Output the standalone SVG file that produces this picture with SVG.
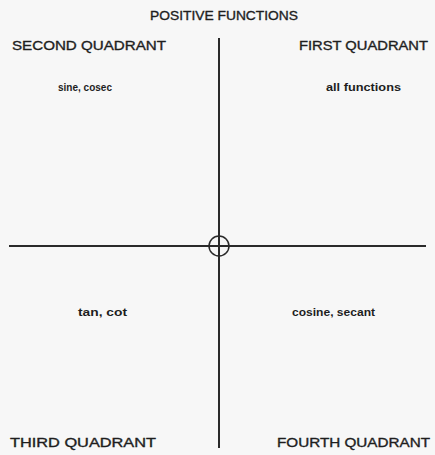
<svg xmlns="http://www.w3.org/2000/svg" width="435" height="455" viewBox="0 0 435 455">
<style>
.t{font-family:"Liberation Sans",Arial,sans-serif;fill:#1e1e1e;}
.h{font-size:13px;stroke:#1e1e1e;stroke-width:0.35px;}
.s{font-size:10.5px;font-weight:bold;}
.ax{stroke:#2a2a2a;fill:none;}
</style>
<rect width="435" height="455" fill="#f7f7f7"/>
<g id="connectors">
<line class="ax" x1="219" y1="38" x2="219" y2="448" stroke-width="2"/>
<line class="ax" x1="9" y1="246" x2="426" y2="246" stroke-width="2"/>
<circle class="ax" cx="219" cy="246" r="10" stroke-width="1.5"/>
</g>
<g id="title"><text class="t h" x="224" y="20" text-anchor="middle" textLength="148" lengthAdjust="spacingAndGlyphs">POSITIVE FUNCTIONS</text></g>
<g id="q2"><text class="t h" x="12" y="50" textLength="154" lengthAdjust="spacingAndGlyphs">SECOND QUADRANT</text>
<text class="t s" x="58" y="91" textLength="54" lengthAdjust="spacingAndGlyphs">sine, cosec</text></g>
<g id="q1"><text class="t h" x="299" y="50" textLength="129" lengthAdjust="spacingAndGlyphs">FIRST QUADRANT</text>
<text class="t s" x="326" y="91" textLength="75" lengthAdjust="spacingAndGlyphs">all functions</text></g>
<g id="q3"><text class="t h" x="10" y="447" textLength="146" lengthAdjust="spacingAndGlyphs">THIRD QUADRANT</text>
<text class="t s" x="78" y="316" textLength="49" lengthAdjust="spacingAndGlyphs">tan, cot</text></g>
<g id="q4"><text class="t h" x="277" y="447" textLength="153" lengthAdjust="spacingAndGlyphs">FOURTH QUADRANT</text>
<text class="t s" x="292" y="316" textLength="83" lengthAdjust="spacingAndGlyphs">cosine, secant</text></g>
</svg>
